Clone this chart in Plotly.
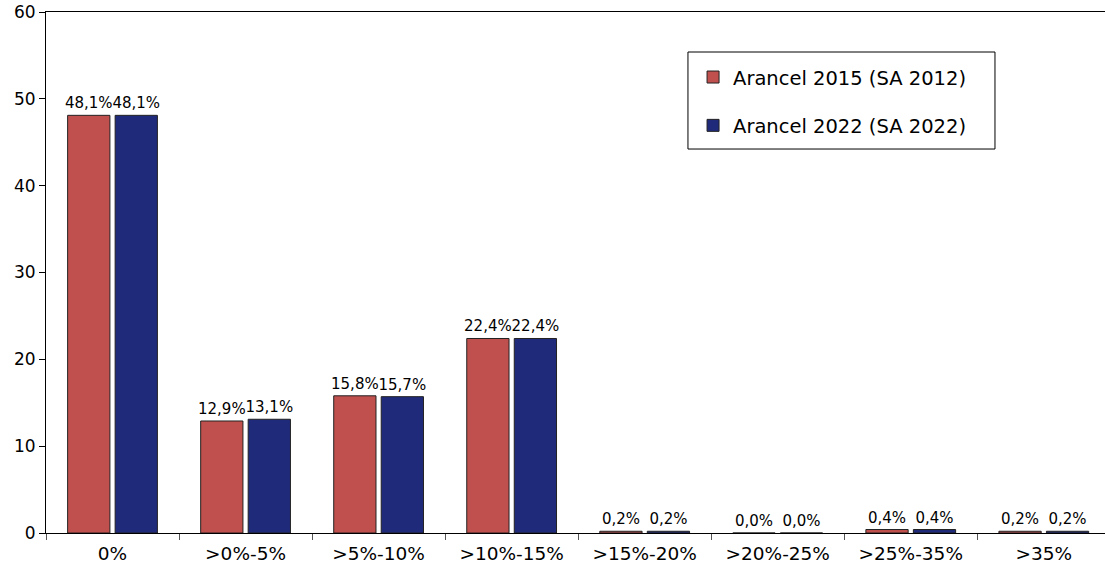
import plotly.graph_objects as go

categories = ["0%", ">0%-5%", ">5%-10%", ">10%-15%", ">15%-20%", ">20%-25%", ">25%-35%", ">35%"]
arancel_2015 = [48.1, 12.9, 15.8, 22.4, 0.2, 0.0, 0.4, 0.2]
arancel_2022 = [48.1, 13.1, 15.7, 22.4, 0.2, 0.0, 0.4, 0.2]
series_names = ["Arancel 2015 (SA 2012)", "Arancel 2022 (SA 2022)"]
colors = ["#C0504D", "#1F2A7A"]

def fmt(v):
    return f"{v:.1f}%".replace(".", ",")

fig = go.Figure()
for i, (name, vals) in enumerate(zip(series_names, [arancel_2015, arancel_2022])):
    fig.add_trace(go.Bar(
        x=categories, y=vals, name=name,
        marker=dict(color=colors[i], line=dict(color="#222222", width=1)),
        text=[fmt(v) for v in vals], textposition="outside", constraintext="none",
        textfont=dict(family="DejaVu Sans, Verdana", size=15, color="#000000"),
        cliponaxis=False, legendgroup=f"g{i}",
    ))

fig.update_layout(
    width=1105, height=568,
    margin=dict(l=46, r=0, t=12, b=35, autoexpand=False),
    paper_bgcolor="white", plot_bgcolor="white",
    barmode="group", bargap=0.286, bargroupgap=0.11,
    font=dict(family="DejaVu Sans, Verdana", size=17, color="#000000"),
    legend=dict(
        x=0.611, y=0.912, xanchor="left", yanchor="top",
        borderwidth=0, font=dict(size=19.5),
        traceorder="grouped", tracegroupgap=20,
        bgcolor="rgba(0,0,0,0)",
    ),
    showlegend=True,
    shapes=[dict(type="rect", xref="paper", yref="paper",
                 x0=0.6062, x1=0.8961, y0=0.737, y1=0.9232,
                 line=dict(color="#000000", width=1), fillcolor="white", layer="below")],
)
fig.update_xaxes(
    range=[-0.5, 7.46], showline=True, linecolor="#000000", linewidth=1, mirror=True,
    ticks="outside", tickson="boundaries", ticklen=6, tickcolor="#555555",
    showgrid=False, tickfont=dict(size=18.5), ticklabelstandoff=4,
)
fig.update_yaxes(
    range=[0, 60], dtick=10, showline=True, linecolor="#000000", linewidth=1,
    ticks="outside", ticklen=6, tickcolor="#000000", showgrid=False, zeroline=False,
    tickfont=dict(size=17), ticklabeloverflow="allow",
)

fig.write_html(
    "out.html",
    config={"displayModeBar": False},
    post_script="document.body.style.margin='0';document.body.style.overflow='hidden';",
)
